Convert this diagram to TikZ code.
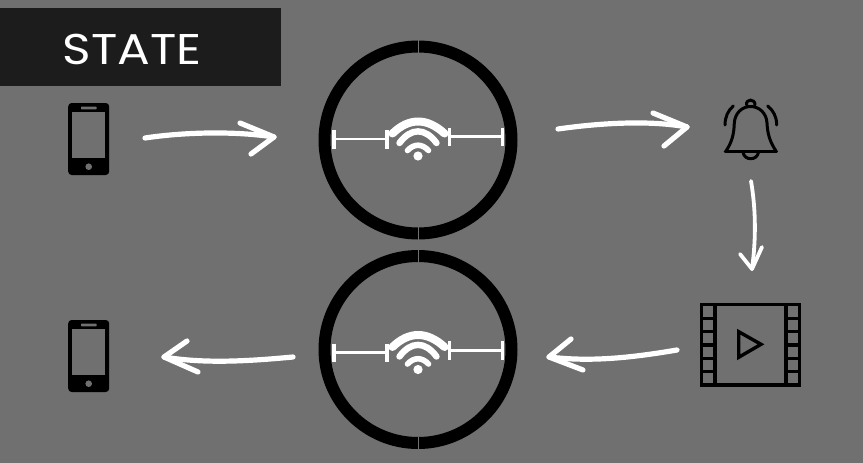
\documentclass[tikz,border=0pt]{standalone}
\usepackage{fontspec}
\setmainfont{Poppins}
\definecolor{bggray}{HTML}{707070}
\definecolor{bandblack}{HTML}{1C1C1C}
\tikzset{
  x=1pt,y=-1pt,
  sketch/.style={draw=white,line width=5.2pt,line cap=round,line join=round},
  sketchthin/.style={draw=white,line width=3.8pt,line cap=round,line join=round},
  bar/.style={draw=white,line width=2.6pt},
  tick/.style={draw=white,line width=3.4pt},
  wifi/.style={draw=white,line cap=round},
  icon/.style={draw=black,line width=3pt,line cap=round,line join=round},
  hubring/.pic={
    \draw[black,line width=12pt] (0,0) circle[radius=93.5pt];
    \draw[bggray,line width=.6pt] (0,-100) -- (0,-87) (0,87) -- (0,100);
  },
  hubsignal/.pic={
    \draw[bar] (-84,-1) -- (-31,-1);
    \draw[tick] (-84,-10) -- (-84,8.5) (-31,-10) -- (-31,8.5);
    \draw[bar] (31.5,-3.3) -- (84.5,-3.3);
    \draw[tick] (31.5,-12.5) -- (31.5,6) (84.5,-12.5) -- (84.5,6);
    \draw[wifi,line width=8pt] (-25.5,-6.5) .. controls (-9,-22.5) and (9,-22.5) .. (26.5,-6.5);
    \draw[wifi,line width=6.4pt] (-18.5,3) .. controls (-7,-12.5) and (7,-12.5) .. (18.5,3);
    \draw[wifi,line width=5.6pt] (-10.5,10.5) .. controls (-4,3.5) and (4,3.5) .. (10.5,10.5);
    \fill[white] (0,16) circle[radius=4.6pt];
  },
  phone/.pic={
    \fill[black,rounded corners=3.5pt] (-20.5,-36) rectangle (20.5,36);
    \fill[bggray] (-16.5,-26.7) rectangle (16.5,19.3);
    \fill[bggray,rounded corners=.6pt] (-7.7,-32.4) rectangle (8,-29.7);
    \fill[bggray] (0,27.7) circle[radius=3.3pt];
  }
}
\begin{document}
\begin{tikzpicture}
\useasboundingbox (0,0) rectangle (863,463);
\fill[bggray] (0,0) rectangle (863,463);
\fill[bandblack] (0,8) rectangle (281,86);
\node[text=white,font=\fontsize{43}{43}\selectfont,inner sep=0pt,anchor=center,xscale=1.13,transform shape] (title) at (132,49) {STATE};

\pic (phoneA) at (88.7,139) {phone};
\pic (phoneB) at (88.7,356) {phone};
\pic (hubA) at (418,140) {hubring};
\pic (hubAsignal) at (418,140) {hubsignal};
\pic (hubB) at (418,349.5) {hubring};
\pic (hubBsignal) at (418,353.5) {hubsignal};

% bell
\draw[icon] (725,151.3) -- (776.7,151.3);
\draw[icon] (726,151) .. controls (732,142) and (734,134) .. (734.3,123)
  .. controls (735,113) and (742,106.5) .. (750.7,106.5)
  .. controls (759,106.5) and (766.5,113) .. (767,123)
  .. controls (767.5,134) and (770,142) .. (776,151);
\draw[icon] (746.5,105) .. controls (745.5,98.5) and (755.5,98.5) .. (755,105);
\draw[icon] (743,152) .. controls (744,161) and (757.5,161) .. (758.5,152);
\draw[icon] (725,125) .. controls (725,117) and (728,110.5) .. (733.3,106);
\draw[icon] (776.7,125) .. controls (776.7,117) and (773.5,110.5) .. (767.7,106);

% film
\draw[icon,line width=3.4pt,line cap=butt,line join=miter] (701.7,304.3) rectangle (799.7,385);
\draw[icon,line width=3.4pt,line cap=butt] (715,304.3) -- (715,385) (786,304.3) -- (786,385);
\foreach \ya in {318.3,331.7,345,358.3,371.7}{
  \draw[icon,line width=3.4pt,line cap=butt] (701.7,\ya) -- (715,\ya) (786,\ya) -- (799.7,\ya);
}
\draw[icon,line width=3.4pt,line join=miter] (738.7,331.7) -- (738.7,357.3) -- (761,344.3) -- cycle;

% arrows
\coordinate (aS) at (145,138); \coordinate (aE) at (274,137);
\coordinate (aL) at (240,123); \coordinate (aR) at (251,154);
\draw[sketch] (aS) .. controls (185,132) and (235,131) .. (aE);
\draw[sketch] (aL) -- (aE) -- (aR);

\coordinate (bS) at (558,129); \coordinate (bE) at (687,127);
\coordinate (bL) at (653,113); \coordinate (bR) at (664,146);
\draw[sketch] (bS) .. controls (600,123) and (650,120) .. (bE);
\draw[sketch] (bL) -- (bE) -- (bR);

\coordinate (cS) at (751,181); \coordinate (cE) at (752,269);
\coordinate (cL) at (740,254); \coordinate (cR) at (762,247);
\draw[sketchthin] (cS) .. controls (756,210) and (756,240) .. (cE);
\draw[sketchthin] (cL) -- (cE) -- (cR);

\coordinate (dS) at (677,350); \coordinate (dE) at (549,357);
\coordinate (dL) at (571,339); \coordinate (dR) at (583,370);
\draw[sketch] (dS) .. controls (630,358) and (590,362) .. (dE);
\draw[sketch] (dL) -- (dE) -- (dR);

\coordinate (eS) at (293,357); \coordinate (eE) at (164,357);
\coordinate (eL) at (187,341); \coordinate (eR) at (198,372);
\draw[sketch] (eS) .. controls (250,361) and (205,364) .. (eE);
\draw[sketch] (eL) -- (eE) -- (eR);
\end{tikzpicture}
\end{document}
